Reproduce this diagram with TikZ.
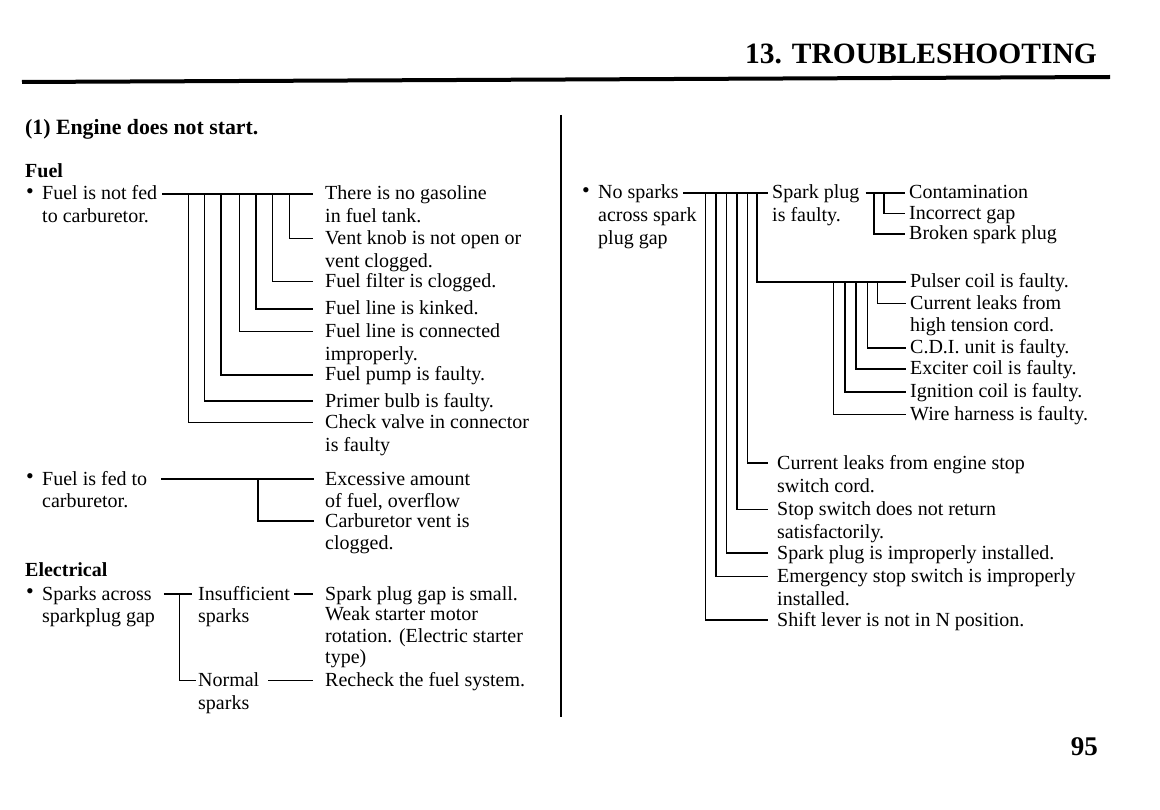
\documentclass[tikz,border=0pt]{standalone}
\usepackage{fontspec}
\setmainfont{Liberation Serif}
\begin{document}
\begin{tikzpicture}[x=1pt,y=-1pt,
  txt/.style={inner sep=0pt, anchor=west, text height=15pt, text depth=3pt, font=\fontsize{20}{22.7}\selectfont},
  bul/.style={inner sep=0pt, font=\fontsize{22}{22}\selectfont},
  hd/.style={inner sep=0pt, anchor=base west, font=\bfseries\fontsize{20}{24}\selectfont},
  ln/.style={line width=1.4pt},
]
\useasboundingbox (0,0) rectangle (1160,810);

% header
\node[inner sep=0pt, anchor=base east, font=\bfseries\fontsize{29.5}{32}\selectfont] (title) at (1097,63.5) {13. TROUBLESHOOTING};
\draw[line width=4pt] (22,82) -- (1110,77);
\draw[line width=1.5pt] (561,115) -- (561,717);
\node[hd, font=\bfseries\fontsize{21.8}{24}\selectfont] (sec) at (25,135) {(1) Engine does not start.};
\node[hd] (fuel) at (25,178) {Fuel};
\node[hd] (elec) at (25,576) {Electrical};
\node[inner sep=0pt, anchor=base east, font=\bfseries\fontsize{27}{30}\selectfont] (pg) at (1098,755) {95};

% ---------- Fuel is not fed
\node[bul] (b1) at (30,194) {•};
\node[txt] (f1) at (42,194) {Fuel is not fed};
\node[txt] (f1x) at ([yshift=-22.7pt]f1.west) {to carburetor.};

\node[txt] (a1) at (325,194) {There is no gasoline};
\node[txt] (a1x) at ([yshift=-22.7pt]a1.west) {in fuel tank.};
\node[txt] (a2) at (325,238.5) {Vent knob is not open or};
\node[txt] (a2x) at ([yshift=-22.7pt]a2.west) {vent clogged.};
\node[txt] (a3) at (325,281.5) {Fuel filter is clogged.};
\node[txt] (a4) at (325,309) {Fuel line is kinked.};
\node[txt] (a5) at (325,331.5) {Fuel line is connected};
\node[txt] (a5x) at ([yshift=-22.7pt]a5.west) {improperly.};
\node[txt] (a6) at (325,375) {Fuel pump is faulty.};
\node[txt] (a7) at (325,401) {Primer bulb is faulty.};
\node[txt] (a8) at (325,422.5) {Check valve in connector};
\node[txt] (a8x) at ([yshift=-22.7pt]a8.west) {is faulty};

\draw[ln, shorten <=5pt, shorten >=12pt] (f1.east) -- (a1.west);
\coordinate (t2) at (289.5,194);
\coordinate (t3) at (272.5,194);
\coordinate (t4) at (256,194);
\coordinate (t5) at (239.5,194);
\coordinate (t6) at (221,194);
\coordinate (t7) at (204.5,194);
\coordinate (t8) at (188.5,194);
\draw[ln, shorten >=12pt] (t2) |- (a2.west);
\draw[ln, shorten >=12pt] (t3) |- (a3.west);
\draw[ln, shorten >=12pt] (t4) |- (a4.west);
\draw[ln, shorten >=12pt] (t5) |- (a5.west);
\draw[ln, shorten >=12pt] (t6) |- (a6.west);
\draw[ln, shorten >=12pt] (t7) |- (a7.west);
\draw[ln, shorten >=12pt] (t8) |- (a8.west);

% ---------- Fuel is fed
\node[bul] (b2) at (30,479) {•};
\node[txt] (f2) at (42,479) {Fuel is fed to};
\node[txt] (f2x) at ([yshift=-22.7pt]f2.west) {carburetor.};
\node[txt] (c1) at (325,479) {Excessive amount};
\node[txt] (c1x) at ([yshift=-22.7pt]c1.west) {of fuel, overflow};
\node[txt] (c2) at (325,521) {Carburetor vent is};
\node[txt] (c2x) at ([yshift=-22.7pt]c2.west) {clogged.};
\draw[ln, shorten <=14pt, shorten >=11pt] (f2.east) -- (c1.west);
\coordinate (tc) at (258,479);
\draw[ln, shorten >=11pt] (tc) |- (c2.west);

% ---------- Electrical: sparks across
\node[bul] (b3) at (30,594) {•};
\node[txt] (s1) at (42,594) {Sparks across};
\node[txt] (s1x) at ([yshift=-22.7pt]s1.west) {sparkplug gap};
\node[txt] (i1) at (198,594) {Insufficient};
\node[txt] (i1x) at ([yshift=-22.7pt]i1.west) {sparks};
\node[txt] (n1) at (198,680.5) {Normal};
\node[txt] (n1x) at ([yshift=-22.7pt]n1.west) {sparks};
\node[txt] (p1) at (325,594) {Spark plug gap is small.};
\node[txt] (p2) at (325,614.5) {Weak starter motor};
\node[txt] (p2x) at ([yshift=-21.5pt]p2.west) {rotation. (Electric starter};
\node[txt] (p2y) at ([yshift=-43pt]p2.west) {type)};
\node[txt] (r1) at (325,680.5) {Recheck the fuel system.};
\draw[ln, shorten <=12pt, shorten >=6pt] (s1.east) -- (i1.west);
\coordinate (sv) at (179.5,594);
\draw[ln, shorten >=2pt] (sv) |- (n1.west);
\draw[ln, shorten <=4pt, shorten >=12pt] (i1.east) -- (p1.west);
\draw[ln, shorten <=9pt, shorten >=12pt] (n1.east) -- (r1.west);

% ---------- No sparks
\node[bul] (b4) at (586,193) {•};
\node[txt] (ns) at (598,193) {No sparks};
\node[txt] (nsx) at ([yshift=-22.7pt]ns.west) {across spark};
\node[txt] (nsy) at ([yshift=-45.4pt]ns.west) {plug gap};
\node[txt] (sp) at (772,193) {Spark plug};
\node[txt] (spx) at ([yshift=-22.7pt]sp.west) {is faulty.};
\node[txt] (ct) at (909,193) {Contamination};
\node[txt] (ig) at (909,213.5) {Incorrect gap};
\node[txt] (bk) at (909,234) {Broken spark plug};
\draw[ln, shorten <=4.5pt, shorten >=4pt] (ns.east) -- (sp.west);
\draw[ln, shorten <=6pt, shorten >=4pt] (sp.east) -- (ct.west);
\coordinate (u1) at (884,193);
\coordinate (u2) at (874,193);
\draw[ln, shorten >=4pt] (u1) |- (ig.west);
\draw[ln, shorten >=4pt] (u2) |- (bk.west);

\node[txt] (pu) at (910,282) {Pulser coil is faulty.};
\node[txt] (cu) at (910,303.5) {Current leaks from};
\node[txt] (cux) at ([yshift=-22pt]cu.west) {high tension cord.};
\node[txt] (cdi) at (910,348) {C.D.I. unit is faulty.};
\node[txt] (ex) at (910,369) {Exciter coil is faulty.};
\node[txt] (ign) at (910,392) {Ignition coil is faulty.};
\node[txt] (wh) at (910,414.5) {Wire harness is faulty.};

\node[txt] (cl) at (777,463) {Current leaks from engine stop};
\node[txt] (clx) at ([yshift=-23pt]cl.west) {switch cord.};
\node[txt] (st) at (777,509.5) {Stop switch does not return};
\node[txt] (stx) at ([yshift=-22.5pt]st.west) {satisfactorily.};
\node[txt] (spi) at (777,553) {Spark plug is improperly installed.};
\node[txt] (em) at (777,576.5) {Emergency stop switch is improperly};
\node[txt] (emx) at ([yshift=-23pt]em.west) {installed.};
\node[txt] (sh) at (777,620) {Shift lever is not in N position.};

\coordinate (v1) at (757,193);
\coordinate (v2) at (747.5,193);
\coordinate (v3) at (737,193);
\coordinate (v4) at (726.5,193);
\coordinate (v5) at (716,193);
\coordinate (v6) at (705.5,193);
\draw[ln, shorten >=4pt] (v1) |- (pu.west);
\draw[ln, shorten >=9pt] (v2) |- (cl.west);
\draw[ln, shorten >=9pt] (v3) |- (st.west);
\draw[ln, shorten >=9pt] (v4) |- (spi.west);
\draw[ln, shorten >=9pt] (v5) |- (em.west);
\draw[ln, shorten >=9pt] (v6) |- (sh.west);

\coordinate (w1) at (877.5,282);
\coordinate (w2) at (867.5,282);
\coordinate (w3) at (856,282);
\coordinate (w4) at (845,282);
\coordinate (w5) at (833.5,282);
\draw[ln, shorten >=4pt] (w1) |- (cu.west);
\draw[ln, shorten >=4pt] (w2) |- (cdi.west);
\draw[ln, shorten >=4pt] (w3) |- (ex.west);
\draw[ln, shorten >=4pt] (w4) |- (ign.west);
\draw[ln, shorten >=4pt] (w5) |- (wh.west);
\end{tikzpicture}
\end{document}
